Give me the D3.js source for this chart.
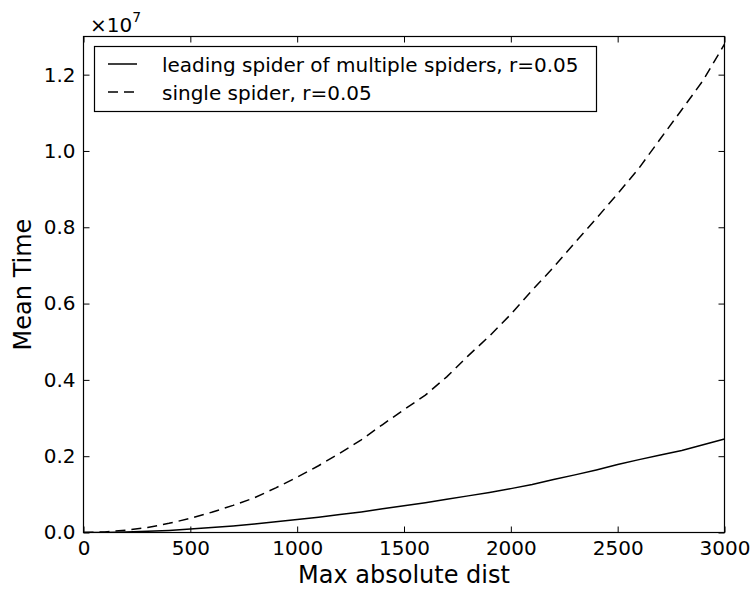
<!DOCTYPE html>
<html>
<head>
<meta charset="utf-8">
<script src="https://cdn.jsdelivr.net/npm/d3@7"></script>
<style>
  body { margin: 0; background: #fff; }
  svg { display: block; font-family: "DejaVu Sans", sans-serif; }
</style>
</head>
<body>
<svg id="chart" width="756" height="589"></svg>
<script>
// ---- data (values in units of 1e7) ----
const dists = [0,100,200,300,400,500,600,700,800,900,1000,1100,1200,1300,1400,1500,1600,1700,1800,1900,2000,2100,2200,2300,2400,2500,2600,2700,2800,2900,3000];
const leadingSpider = [0,0.0003,0.0012,0.003,0.0055,0.009,0.013,0.017,0.022,0.028,0.034,0.040,0.047,0.054,0.062,0.070,0.078,0.087,0.096,0.105,0.115,0.126,0.139,0.151,0.164,0.178,0.191,0.203,0.215,0.230,0.245];
const singleSpider = [0,0.0015,0.006,0.013,0.024,0.037,0.053,0.071,0.091,0.117,0.145,0.175,0.208,0.243,0.283,0.322,0.360,0.408,0.463,0.515,0.572,0.635,0.695,0.760,0.823,0.888,0.955,1.032,1.108,1.185,1.280];
const seriesNames = ["leading spider of multiple spiders, r=0.05", "single spider, r=0.05"];
const xTicks = [0,500,1000,1500,2000,2500,3000];
const yTicks = [0,0.2,0.4,0.6,0.8,1.0,1.2];
const xLabel = "Max absolute dist";
const yLabel = "Mean Time";

const svg = d3.select("#chart");
const L = 83.5, R = 724.5, T = 36.5, B = 532.5;
const x = d3.scaleLinear().domain([0,3000]).range([L, R]);
const y = d3.scaleLinear().domain([0,1.3]).range([B, T]);

const lineGen = d3.line().x((d,i) => x(dists[i])).y(d => y(d));
svg.append("defs").append("clipPath").attr("id","clip")
  .append("rect").attr("x",L).attr("y",T).attr("width",R-L).attr("height",B-T);

const g = svg.append("g").attr("clip-path","url(#clip)");
g.append("path").datum(leadingSpider).attr("d", lineGen)
  .attr("fill","none").attr("stroke","#000").attr("stroke-width",1.5);
g.append("path").datum(singleSpider).attr("d", lineGen)
  .attr("fill","none").attr("stroke","#000").attr("stroke-width",1.5)
  .attr("stroke-dasharray","10,6");

// axes with inward ticks on all four sides
const tickLen = 6;
const fmtY = d3.format(".1f");
const axB = d3.axisBottom(x).tickValues(xTicks).tickSizeInner(-tickLen).tickSizeOuter(0).tickPadding(14).tickFormat(d3.format("d"));
const axT = d3.axisTop(x).tickValues(xTicks).tickSizeInner(-tickLen).tickSizeOuter(0).tickFormat("");
const axL = d3.axisLeft(y).tickValues(yTicks).tickSizeInner(-tickLen).tickSizeOuter(0).tickPadding(14).tickFormat(fmtY);
const axR = d3.axisRight(y).tickValues(yTicks).tickSizeInner(-tickLen).tickSizeOuter(0).tickFormat("");

function style(sel){
  sel.select(".domain").remove();
  sel.selectAll(".tick line").attr("stroke","#000").attr("stroke-width",1);
  sel.selectAll(".tick text").attr("fill","#000").attr("font-size",20).attr("font-family","DejaVu Sans");
}
svg.append("g").attr("transform",`translate(0,${B})`).call(axB).call(style)
  .selectAll(".tick text").attr("dy","0.71em").attr("y",8);
svg.append("g").attr("transform",`translate(0,${T})`).call(axT).call(style);
svg.append("g").attr("transform",`translate(${L},0)`).call(axL).call(style)
  .selectAll(".tick text").attr("x",-8);
svg.append("g").attr("transform",`translate(${R},0)`).call(axR).call(style);

// frame
svg.append("rect").attr("x",L).attr("y",T).attr("width",R-L).attr("height",B-T)
  .attr("fill","none").attr("stroke","#000").attr("stroke-width",1.2);

// axis labels
svg.append("text").attr("x",(L+R)/2).attr("y",583).attr("text-anchor","middle")
  .attr("font-size",24).text(xLabel);
svg.append("text").attr("transform",`translate(31,${(T+B)/2}) rotate(-90)`).attr("text-anchor","middle")
  .attr("font-size",24).text(yLabel);

// offset text
const off = svg.append("text").attr("x",90).attr("y",32).attr("font-size",20);
off.append("tspan").text("×10");
off.append("tspan").attr("font-size",14).attr("dy",-10).text("7");

// legend
const leg = svg.append("g");
leg.append("rect").attr("x",94.5).attr("y",46.5).attr("width",502).attr("height",65)
  .attr("fill","#fff").attr("stroke","#000").attr("stroke-width",1.2);
const rows = [{name:seriesNames[0], dash:null, y:64},{name:seriesNames[1], dash:"10,6", y:92}];
rows.forEach(r => {
  leg.append("line").attr("x1",108).attr("x2",137).attr("y1",r.y).attr("y2",r.y)
    .attr("stroke","#000").attr("stroke-width",1.5).attr("stroke-dasharray", r.dash);
  leg.append("text").attr("x",162).attr("y",r.y+8).attr("font-size",20).text(r.name);
});
</script>
</body>
</html>
